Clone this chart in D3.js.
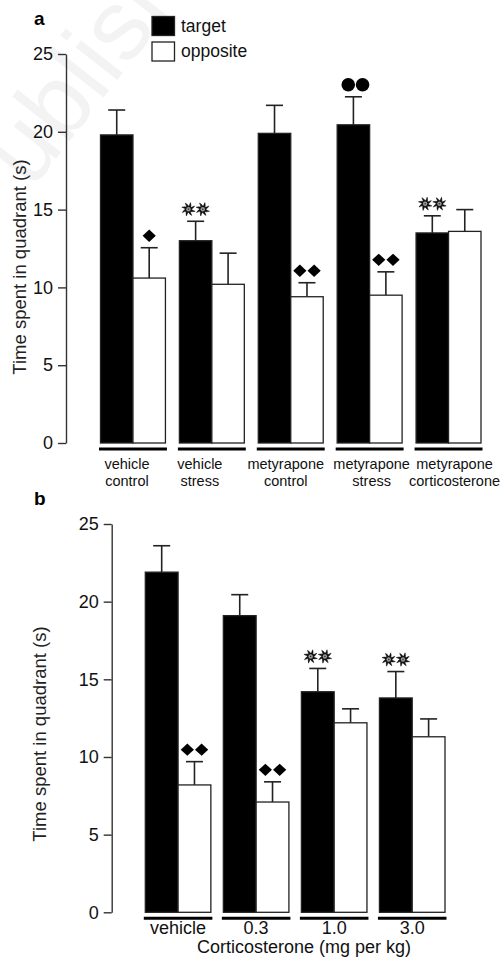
<!DOCTYPE html>
<html>
<head>
<meta charset="utf-8">
<script src="https://cdn.jsdelivr.net/npm/d3@7"></script>
<style>
  html, body { margin: 0; padding: 0; background: #fff; }
  svg { display: block; }
  text { font-family: "Liberation Sans", Arial, Helvetica, sans-serif; fill: #000; }
</style>
</head>
<body>
<svg id="chart" width="501" height="961"></svg>
<script>
// ---------- data ----------
const seriesNames = ["target", "opposite"];
const yTicks = [0, 5, 10, 15, 20, 25];

// panel a
const catsA = [["vehicle", "control"], ["vehicle", "stress"], ["metyrapone", "control"], ["metyrapone", "stress"], ["metyrapone", "corticosterone"]];
const targetA = [19.8, 13.0, 19.9, 20.45, 13.5];
const targetErrA = [1.6, 1.25, 1.8, 1.8, 1.1];
const oppositeA = [10.6, 10.2, 9.4, 9.5, 13.6];
const oppositeErrA = [1.95, 2.0, 0.9, 1.5, 1.4];
const targetMarkA = ["", "pin2", "", "circle2", "pin2"];
const oppositeMarkA = ["diamond1", "", "diamond2", "diamond2", ""];

// panel b
const catsB = ["vehicle", "0.3", "1.0", "3.0"];
const targetB = [21.9, 19.1, 14.2, 13.8];
const targetErrB = [1.7, 1.35, 1.5, 1.7];
const oppositeB = [8.2, 7.1, 12.2, 11.3];
const oppositeErrB = [1.5, 1.3, 0.9, 1.15];
const targetMarkB = ["", "", "pin2", "pin2"];
const oppositeMarkB = ["diamond2", "diamond2", "", ""];
const xTitleB = "Corticosterone (mg per kg)";
const yTitle = "Time spent in quadrant (s)";
const watermark = "Published";

// ---------- drawing ----------
const svg = d3.select("#chart");

// faint watermark (clipped by the page edge as in the reference)
svg.append("text")
  .attr("transform", "translate(-10,243) rotate(-52)")
  .attr("font-size", 100)
  .style("fill", "#f3f3f3")
  .text(watermark);

function pinwheel(g, cx, cy) {
  const s = g.append("g").attr("transform", `translate(${cx},${cy})`);
  const n = 8;
  let d = "";
  for (let i = 0; i < n; i++) {
    const a = i * 2 * Math.PI / n;
    const p = (r, t) => [r * Math.cos(t), r * Math.sin(t)];
    const p0 = p(1.8, a), p1 = p(7.0, a + 0.3), pc = p(4.4, a + 0.85), p2 = p(1.8, a + 0.78);
    d += `M${p0}L${p1}Q${pc} ${p2}Z`;
  }
  s.append("circle").attr("r", 3.6).attr("fill", "#333");
  s.append("path").attr("d", d).attr("fill", "#111").attr("stroke", "#111").attr("stroke-width", 0.5);
  s.append("circle").attr("r", 2.2).attr("fill", "#999");
  s.append("circle").attr("r", 0.8).attr("fill", "#333");
}

function drawMark(g, type, cx, cy) {
  if (!type) return;
  const n = type.endsWith("2") ? 2 : 1;
  const sp = 14.3;
  for (let k = 0; k < n; k++) {
    const x = cx + (n === 2 ? (k - 0.5) * sp : 0);
    if (type.startsWith("diamond")) {
      g.append("path")
        .attr("d", `M${x},${cy - 6.2}L${x + 6.6},${cy}L${x},${cy + 6.2}L${x - 6.6},${cy}Z`)
        .attr("fill", "#000");
    } else if (type.startsWith("circle")) {
      g.append("circle").attr("cx", x).attr("cy", cy).attr("r", 6.8).attr("fill", "#000");
    } else if (type.startsWith("pin")) {
      pinwheel(g, x, cy);
    }
  }
}

function panel(opts) {
  const g = svg.append("g");
  const y = d3.scaleLinear().domain([0, 25]).range([opts.y0, opts.y25]);
  const x = d3.scaleBand().domain(d3.range(opts.n)).range(opts.xRange).paddingInner(opts.padIn).paddingOuter(0);
  const sub = d3.scaleBand().domain(seriesNames).range([0, x.bandwidth()]);

  // y axis
  const ax = g.append("g")
    .attr("transform", `translate(${opts.axisX},0)`)
    .call(d3.axisLeft(y).tickValues(yTicks).tickSize(8).tickSizeOuter(0).tickPadding(5));
  ax.select(".domain").attr("stroke", "#333").attr("stroke-width", 1.4);
  ax.selectAll(".tick line").attr("stroke", "#333").attr("stroke-width", 1.4);
  ax.selectAll(".tick text").attr("font-size", 18).attr("font-family", "Liberation Sans, Arial, sans-serif").style("fill", "#111");

  g.append("text")
    .attr("transform", `translate(${opts.titleX},${opts.titleY}) rotate(-90)`)
    .attr("text-anchor", "middle")
    .attr("font-size", 18.5)
    .style("fill", "#222")
    .text(yTitle);

  const series = [
    { name: "target", vals: opts.target, errs: opts.targetErr, marks: opts.targetMark, fill: "#000" },
    { name: "opposite", vals: opts.opposite, errs: opts.oppositeErr, marks: opts.oppositeMark, fill: "#fff" }
  ];

  series.forEach(s => {
    s.vals.forEach((v, i) => {
      const bx = x(i) + sub(s.name);
      const bw = sub.bandwidth();
      const cx = bx + bw / 2;
      const top = y(v + s.errs[i]);
      g.append("line").attr("x1", cx).attr("x2", cx).attr("y1", y(v)).attr("y2", top)
        .attr("stroke", "#222").attr("stroke-width", 1.6);
      g.append("line").attr("x1", cx - 8.5).attr("x2", cx + 8.5).attr("y1", top).attr("y2", top)
        .attr("stroke", "#222").attr("stroke-width", 1.6);
      g.append("rect").attr("x", bx).attr("y", y(v)).attr("width", bw).attr("height", y(0) - y(v))
        .attr("fill", s.fill).attr("stroke", "#222").attr("stroke-width", 1.3);
      drawMark(g, s.marks[i], cx + (s.marks[i].startsWith("circle") ? 2 : 0), top - 12);
    });
  });

  opts.cats.forEach((c, i) => {
    g.append("line").attr("x1", x(i) - 1.5).attr("x2", x(i) + x.bandwidth() + 1.5)
      .attr("y1", y(0) + opts.ulOff).attr("y2", y(0) + opts.ulOff)
      .attr("stroke", "#000").attr("stroke-width", 3);
    const lines = Array.isArray(c) ? c : [c];
    lines.forEach((t, j) => {
      g.append("text")
        .attr("x", x(i) + x.bandwidth() / 2 + (opts.labelShift ? opts.labelShift[i] : 0))
        .attr("y", opts.labelY + j * opts.lineH)
        .attr("text-anchor", "middle")
        .attr("font-size", opts.labelSize)
        .style("fill", "#111")
        .text(t);
    });
  });
  return { g, x, y };
}

// panel a
const pa = panel({
  n: catsA.length, cats: catsA,
  target: targetA, targetErr: targetErrA, targetMark: targetMarkA,
  opposite: oppositeA, oppositeErr: oppositeErrA, oppositeMark: oppositeMarkA,
  y0: 443, y25: 54, axisX: 66, xRange: [100.5, 481], padIn: 0.177,
  titleX: 26, titleY: 267, ulOff: 6, labelY: 469, lineH: 17, labelSize: 14.5,
  labelShift: [-6, -12, -5, 2, 6]
});
pa.g.append("text").attr("x", 34).attr("y", 25).attr("font-size", 19).attr("font-weight", "bold").text("a");

// legend
const leg = svg.append("g");
seriesNames.forEach((s, i) => {
  leg.append("rect").attr("x", 152).attr("y", 16.5 + i * 25.5).attr("width", 22.5).attr("height", 19)
    .attr("fill", i === 0 ? "#000" : "#fff").attr("stroke", "#222").attr("stroke-width", 1.3);
  leg.append("text").attr("x", 181).attr("y", 32 + i * 24.5).attr("font-size", 17.5).style("fill", "#111").text(s);
});

// panel b
const pb = panel({
  n: catsB.length, cats: catsB,
  target: targetB, targetErr: targetErrB, targetMark: targetMarkB,
  opposite: oppositeB, oppositeErr: oppositeErrB, oppositeMark: oppositeMarkB,
  y0: 912.3, y25: 524, axisX: 111.7, xRange: [145.3, 445], padIn: 0.16,
  titleX: 46, titleY: 734, ulOff: 6, labelY: 934, lineH: 0, labelSize: 18
});
pb.g.append("text").attr("x", 34).attr("y", 505).attr("font-size", 19).attr("font-weight", "bold").text("b");
pb.g.append("text").attr("x", 304).attr("y", 953).attr("text-anchor", "middle").attr("font-size", 18)
  .style("fill", "#111").text(xTitleB);
</script>
</body>
</html>
